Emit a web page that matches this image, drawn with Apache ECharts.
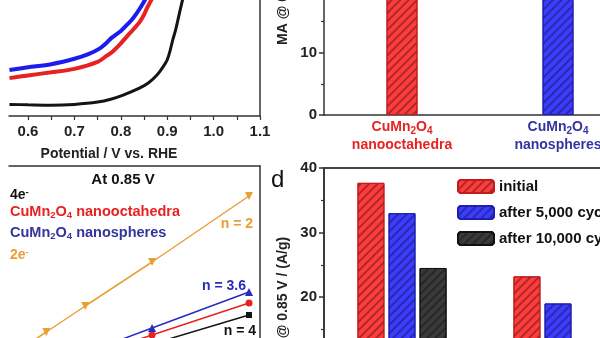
<!DOCTYPE html>
<html><head><meta charset="utf-8">
<script src="https://cdn.jsdelivr.net/npm/echarts@6/dist/echarts.min.js"></script>
<style>html,body{margin:0;padding:0;background:#fff}#c{width:600px;height:338px}</style>
</head><body><div id="c"></div>
<script>
// ---------- Panel a: LSV curves ----------
const potentialTicks = [0.6, 0.65, 0.7, 0.75, 0.8, 0.85, 0.9, 0.95, 1.0, 1.05, 1.1];
const potentialLabels = [0.6, 0.7, 0.8, 0.9, 1.0, 1.1];
const octaV = [0.56, 0.60, 0.65, 0.70, 0.75, 0.77, 0.78, 0.80, 0.82, 0.83, 0.84, 0.85, 0.856, 0.863, 0.87, 0.88];
const octaJ = [-5.02, -4.95, -4.87, -4.78, -4.60, -4.44, -4.36, -4.12, -3.85, -3.72, -3.58, -3.38, -3.22, -3.06, -2.9, -2.6];
const sphV = [0.56, 0.60, 0.65, 0.70, 0.73, 0.755, 0.77, 0.78, 0.80, 0.815, 0.826, 0.84, 0.852, 0.862];
const sphJ = [-4.81, -4.74, -4.66, -4.52, -4.40, -4.25, -4.10, -3.98, -3.80, -3.62, -3.48, -3.24, -3.0, -2.75];
const refV = [0.56, 0.60, 0.65, 0.70, 0.75, 0.78, 0.805, 0.84, 0.86, 0.878, 0.89, 0.90, 0.906, 0.912, 0.918, 0.923, 0.93, 0.935];
const refJ = [-5.70, -5.71, -5.72, -5.70, -5.64, -5.56, -5.46, -5.28, -5.14, -4.94, -4.75, -4.55, -4.32, -4.03, -3.78, -3.52, -3.15, -2.9];

// ---------- Panel b: mass activity ----------
const materials = ['CuMn2O4 nanooctahedra', 'CuMn2O4 nanospheres'];
const massActivity = [25, 22];
const maTicksInterval = 10;

// ---------- Panel c: K-L plot at 0.85 V ----------
const omegaOrange = [0.080, 0.0899, 0.1023, 0.1236, 0.1545];
const invJ2e = [0.054, 0.136, 0.24, 0.416, 0.68];
const omegaOthers = [0.1023, 0.1236, 0.1545];
const invJSph = [0.052, 0.152, 0.296];
const invJOcta = [0.036, 0.124, 0.252];
const invJ4e = [0.008, 0.088, 0.204];

// ---------- Panel d: stability ----------
const stabilityNames = ['initial', 'after 5,000 cycles', 'after 10,000 cycles'];
const stInitial = [37.7, 23.2];
const st5000 = [33.0, 19.0];
const st10000 = [24.5, 12.0];

const FONT = 'Liberation Sans, Arial, sans-serif';
const RED = '#e82222', BLUE = '#1c1cf0', BLACK = '#141414', ORANGE = '#e8a035';
const BAR_RED = '#ff3c3c', BAR_BLUE = '#3c3cff', BAR_BLACK = '#3a3a3a';
const zip = (a, b) => a.map((v, i) => [v, b[i]]);
const hatch = { symbol: 'rect', symbolSize: 1, dashArrayX: [1, 0], dashArrayY: [1.3, 3.2], rotation: -Math.PI / 4, color: 'rgba(0,0,0,0.32)' };
const lineAx = { show: true, onZero: false, lineStyle: { color: '#333', width: 1.5 } };
const noAx = { axisTick: { show: false }, axisLabel: { show: false }, splitLine: { show: false } };
const tickFont = { fontFamily: FONT, fontWeight: 'bold', fontSize: 15, color: '#222' };

const chart = echarts.init(document.getElementById('c'), null, { renderer: 'canvas' });

const catRich = {};
[RED, '#34349e'].forEach((c, i) => {
  catRich['m' + i] = { color: c, fill: c, fontFamily: FONT, fontWeight: 'bold', fontSize: 14, lineHeight: 18 };
  catRich['s' + i] = { color: c, fill: c, fontFamily: FONT, fontWeight: 'bold', fontSize: 10, lineHeight: 10, verticalAlign: 'bottom' };
});

function formula(tag, sub) {
  return `{${tag}|CuMn}{${sub}|2}{${tag}|O}{${sub}|4}`;
}

function legendText(fill, size) {
  return {
    a: { fill: fill, fontFamily: FONT, fontWeight: 'bold', fontSize: size, lineHeight: 16 },
    s: { fill: fill, fontFamily: FONT, fontWeight: 'bold', fontSize: 9.5, lineHeight: 8, verticalAlign: 'bottom' },
    p: { fill: fill, fontFamily: FONT, fontWeight: 'bold', fontSize: 9.5, lineHeight: 8, verticalAlign: 'top' }
  };
}

const option = {
  animation: false,
  backgroundColor: '#fff',
  textStyle: { fontFamily: FONT },
  legend: {
    data: stabilityNames, orient: 'vertical', left: 457, top: 179, padding: 0,
    itemWidth: 36, itemHeight: 13, itemGap: 11,
    textStyle: { fontFamily: FONT, fontWeight: 'bold', fontSize: 15, color: '#111' }
  },
  grid: [
    { left: 9, top: 0, width: 251, height: 116, outerBoundsMode: 'none', containLabel: false },
    { left: 324, top: 115 - 187.5, width: 312, height: 187.5, outerBoundsMode: 'none', containLabel: false },
    { left: 9, top: 166, width: 251, height: 200, outerBoundsMode: 'none', containLabel: false },
    { left: 324, top: 168, width: 312, height: 258, show: true, borderColor: '#444', borderWidth: 1.8, backgroundColor: 'transparent', outerBoundsMode: 'none', containLabel: false }
  ],
  xAxis: [
    { gridIndex: 0, type: 'value', min: 0.559, max: 1.1, position: 'bottom',
      axisLine: lineAx, splitLine: { show: false },
      axisTick: { show: true, length: 4, lineStyle: { color: '#333', width: 1.2 }, customValues: potentialTicks },
      axisLabel: Object.assign({ customValues: potentialLabels, formatter: v => Number(v).toFixed(1), margin: 8 }, tickFont) },
    { gridIndex: 1, type: 'category', data: materials, position: 'bottom',
      axisLine: lineAx, axisTick: { show: false }, splitLine: { show: false },
      axisLabel: { interval: 0, margin: 3, rich: catRich,
        formatter: (v, i) => formula('m' + i, 's' + i) + '\n' + `{m${i}|${v.split(' ')[1]}}` } },
    { gridIndex: 2, type: 'value', min: 0.078, max: 0.158, show: false },
    Object.assign({ gridIndex: 2, type: 'value', min: 0, max: 1, position: 'top', axisLine: lineAx }, noAx),
    Object.assign({ gridIndex: 3, type: 'category', data: materials, position: 'bottom', axisLine: lineAx }, noAx)
  ],
  yAxis: [
    { gridIndex: 0, type: 'value', min: -6, max: -3, show: false },
    Object.assign({ gridIndex: 0, type: 'value', min: 0, max: 1, position: 'right', axisLine: lineAx }, noAx),
    { gridIndex: 1, type: 'value', min: 0, max: 30, interval: maTicksInterval, position: 'left',
      axisLine: lineAx, splitLine: { show: false },
      axisTick: { show: true, length: 5, lineStyle: { color: '#333', width: 1.5 } },
      minorTick: { show: true, splitNumber: 2, length: 3, lineStyle: { color: '#333', width: 1.2 } },
      axisLabel: Object.assign({ margin: 7 }, tickFont) },
    { gridIndex: 2, type: 'value', min: 0, max: 0.8, show: false },
    Object.assign({ gridIndex: 2, type: 'value', min: 0, max: 1, position: 'right', axisLine: lineAx }, noAx),
    { gridIndex: 3, type: 'value', min: 0, max: 40, interval: 10, position: 'left',
      axisLine: lineAx, splitLine: { show: false },
      axisTick: { show: true, length: 5, lineStyle: { color: '#333', width: 1.5 } },
      minorTick: { show: true, splitNumber: 2, length: 3, lineStyle: { color: '#333', width: 1.2 } },
      axisLabel: Object.assign({ margin: 7 }, tickFont) }
  ],
  series: [
    { name: 'LSV ref', type: 'line', xAxisIndex: 0, yAxisIndex: 0, data: zip(refV, refJ), showSymbol: false, smooth: 0.3,
      lineStyle: { color: BLACK, width: 3 } },
    { name: 'LSV octa', type: 'line', xAxisIndex: 0, yAxisIndex: 0, data: zip(octaV, octaJ), showSymbol: false, smooth: 0.3,
      lineStyle: { color: RED, width: 4 } },
    { name: 'LSV sph', type: 'line', xAxisIndex: 0, yAxisIndex: 0, data: zip(sphV, sphJ), showSymbol: false, smooth: 0.3,
      lineStyle: { color: BLUE, width: 4 } },
    { name: 'MA', type: 'bar', xAxisIndex: 1, yAxisIndex: 2, barWidth: 31,
      data: massActivity.map((v, i) => ({ value: v, itemStyle: { color: i ? BAR_BLUE : BAR_RED, borderColor: i ? '#2020b0' : '#c41c1c', borderWidth: 1 } })),
      itemStyle: { decal: hatch } },
    { name: 'KL 4e', type: 'line', xAxisIndex: 2, yAxisIndex: 3, data: zip(omegaOthers, invJ4e), symbol: 'rect', symbolSize: 6,
      lineStyle: { color: BLACK, width: 1.5 }, itemStyle: { color: BLACK } },
    { name: 'KL octa', type: 'line', xAxisIndex: 2, yAxisIndex: 3, data: zip(omegaOthers, invJOcta), symbol: 'circle', symbolSize: 7,
      lineStyle: { color: RED, width: 1.5 }, itemStyle: { color: RED } },
    { name: 'KL sph', type: 'line', xAxisIndex: 2, yAxisIndex: 3, data: zip(omegaOthers, invJSph), symbol: 'triangle', symbolSize: 8,
      lineStyle: { color: '#2a2ac0', width: 1.5 }, itemStyle: { color: '#2a2ac0' } },
    { name: 'KL 2e', type: 'line', xAxisIndex: 2, yAxisIndex: 3, data: zip(omegaOrange, invJ2e), symbol: 'triangle', symbolRotate: 180, symbolSize: 8,
      lineStyle: { color: ORANGE, width: 1.5 }, itemStyle: { color: ORANGE } },
    { name: stabilityNames[0], type: 'bar', xAxisIndex: 4, yAxisIndex: 5, data: stInitial, barWidth: 27, barGap: '15%',
      itemStyle: { color: BAR_RED, borderColor: '#c41c1c', borderWidth: 1, decal: hatch } },
    { name: stabilityNames[1], type: 'bar', xAxisIndex: 4, yAxisIndex: 5, data: st5000, barWidth: 27, barGap: '15%',
      itemStyle: { color: BAR_BLUE, borderColor: '#2020b0', borderWidth: 1, decal: hatch } },
    { name: stabilityNames[2], type: 'bar', xAxisIndex: 4, yAxisIndex: 5, data: st10000, barWidth: 27, barGap: '15%',
      itemStyle: { color: BAR_BLACK, borderColor: '#111', borderWidth: 1, decal: hatch } }
  ],
  graphic: [
    { type: 'text', x: 109, y: 154, style: { text: 'Potential / V vs. RHE', font: 'bold 14px ' + FONT, fill: '#222', align: 'center', verticalAlign: 'middle' } },
    { type: 'text', x: 283, y: 45, rotation: Math.PI / 2, style: { text: 'MA @ 0.85 V / (A/g)', font: 'bold 14px ' + FONT, fill: '#222', align: 'left', verticalAlign: 'middle' } },
    { type: 'text', x: 283, y: 364, rotation: Math.PI / 2, style: { text: 'MA @ 0.85 V / (A/g)', font: 'bold 14px ' + FONT, fill: '#222', align: 'left', verticalAlign: 'middle' } },
    { type: 'text', x: 271, y: 180, style: { text: 'd', font: '24px ' + FONT, fill: '#111', align: 'left', verticalAlign: 'middle' } },
    { type: 'text', x: 123, y: 180, style: { text: 'At 0.85 V', font: 'bold 15px ' + FONT, fill: '#111', align: 'center', verticalAlign: 'middle' } },
    { type: 'text', x: 10, y: 195, style: { text: '{a|4e}{p|-}', align: 'left', verticalAlign: 'middle', rich: legendText('#111', 14) } },
    { type: 'text', x: 10, y: 212, style: { text: '{a|CuMn}{s|2}{a|O}{s|4}{a| nanooctahedra}', align: 'left', verticalAlign: 'middle', rich: legendText(RED, 14.5) } },
    { type: 'text', x: 10, y: 233, style: { text: '{a|CuMn}{s|2}{a|O}{s|4}{a| nanospheres}', align: 'left', verticalAlign: 'middle', rich: legendText('#34349e', 14.5) } },
    { type: 'text', x: 10, y: 255, style: { text: '{a|2e}{p|-}', align: 'left', verticalAlign: 'middle', rich: legendText(ORANGE, 14) } },
    { type: 'text', x: 237, y: 224, style: { text: 'n = 2', font: 'bold 14px ' + FONT, fill: ORANGE, align: 'center', verticalAlign: 'middle' } },
    { type: 'text', x: 224, y: 286, style: { text: 'n = 3.6', font: 'bold 14px ' + FONT, fill: '#2a2ac0', align: 'center', verticalAlign: 'middle' } },
    { type: 'text', x: 240, y: 331, style: { text: 'n = 4', font: 'bold 14px ' + FONT, fill: '#111', align: 'center', verticalAlign: 'middle' } }
  ]
};
chart.setOption(option);
</script></body></html>
